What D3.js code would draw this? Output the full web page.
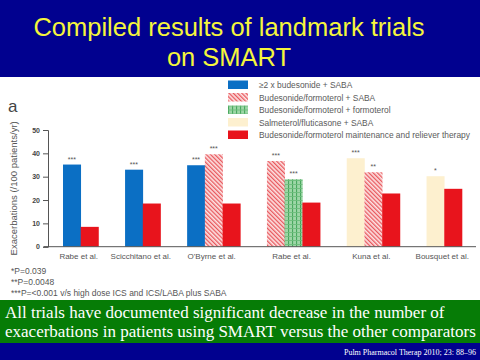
<!DOCTYPE html>
<html><head><meta charset="utf-8">
<script src="https://cdn.jsdelivr.net/npm/d3@7"></script>
<style>body{margin:0;background:#fff}svg{display:block}</style>
</head><body>
<script>
const titleLines = ["Compiled results of landmark trials", "on SMART"];
const trials = ["Rabe et al.", "Scicchitano et al.", "O'Byrne et al.", "Rabe et al.", "Kuna et al.", "Bousquet et al."];
const seriesNames = ["\u22652 x budesonide + SABA", "Budesonide/formoterol + SABA", "Budesonide/formoterol + formoterol", "Salmeterol/fluticasone + SABA", "Budesonide/formoterol maintenance and reliever therapy"];
// bars per trial: [series index, value, significance]
const trialBars = [
  [[0, 35.2, "***"], [4, 8.5, ""]],
  [[0, 33.0, "***"], [4, 18.5, ""]],
  [[0, 34.9, "***"], [1, 39.6, "***"], [4, 18.5, ""]],
  [[1, 36.7, "***"], [2, 28.9, "***"], [4, 18.9, ""]],
  [[3, 37.9, "***"], [1, 31.9, "**"], [4, 22.8, ""]],
  [[3, 30.2, "*"], [4, 24.8, ""]]
];
const yTicks = [0, 10, 20, 30, 40, 50];
const footnotes = ["*P=0.039", "**P=0.0048", "***P=<0.001 v/s high dose ICS and ICS/LABA plus SABA"];
const summaryLines = ["All trials have documented significant decrease in the number of", "exacerbations in patients using SMART versus the other comparators"];
const citation = "Pulm Pharmacol Therap 2010; 23: 88\u201396";

const W = 480, H = 360;
const svg = d3.select("body").append("svg").attr("width", W).attr("height", H);
const defs = svg.append("defs");

// patterns
const pHatch = defs.append("pattern").attr("id", "hatch").attr("patternUnits", "userSpaceOnUse")
  .attr("width", 3).attr("height", 3).attr("patternTransform", "rotate(-45)");
pHatch.append("rect").attr("width", 3).attr("height", 3).attr("fill", "#fde2e2");
pHatch.append("rect").attr("width", 1.3).attr("height", 3).attr("fill", "#e8585d");
const pPlaid = defs.append("pattern").attr("id", "plaid").attr("patternUnits", "userSpaceOnUse")
  .attr("width", 4).attr("height", 4);
pPlaid.append("rect").attr("width", 4).attr("height", 4).attr("fill", "#9dd6a6");
pPlaid.append("rect").attr("width", 1.1).attr("height", 4).attr("fill", "#4aa85f");
pPlaid.append("rect").attr("width", 4).attr("height", 0.9).attr("fill", "#6cbd7b");
const fills = ["#0b6fc4", "url(#hatch)", "url(#plaid)", "#fdf0cf", "#e8141c"];

// header band
svg.append("rect").attr("x", 0).attr("y", 0).attr("width", W).attr("height", 77).attr("fill", "#01018f");
svg.selectAll(".title").data(titleLines).join("text")
  .attr("x", 229).attr("y", (d, i) => 36 + i * 30)
  .attr("text-anchor", "middle").attr("fill", "#f5f53c")
  .style("font-family", "Liberation Sans, Arial, sans-serif").style("font-size", "25.5px")
  .text(d => d);

// panel label
svg.append("text").attr("x", 8).attr("y", 112).attr("fill", "#444")
  .style("font-family", "Liberation Sans, Arial, sans-serif").style("font-size", "17px").text("a");

// scales
const y = d3.scaleLinear().domain([0, 50]).range([246.7, 130]);
const gapSlots = 1.5;
let slot = 0;
const bars = [];
const groups = [];
trialBars.forEach((g, gi) => {
  const start = slot;
  g.forEach(b => { bars.push({series: b[0], value: b[1], sig: b[2], slot: slot}); slot += 1; });
  groups.push({name: trials[gi], center: (start + slot) / 2});
  slot += gapSlots;
});
const totalSlots = slot - gapSlots;
const x = d3.scaleLinear().domain([0, totalSlots]).range([63, 462]);
const bw = x(1) - x(0);

// bars
svg.append("g").selectAll("rect").data(bars).join("rect")
  .attr("x", d => x(d.slot)).attr("y", d => y(d.value))
  .attr("width", bw + 0.3).attr("height", d => y(0) - y(d.value))
  .attr("fill", d => fills[d.series]);
svg.append("g").selectAll("text").data(bars.filter(d => d.sig)).join("text")
  .attr("x", d => x(d.slot + 0.5)).attr("y", d => y(d.value) - 3)
  .attr("text-anchor", "middle").attr("fill", "#555")
  .style("font-family", "Liberation Sans, Arial, sans-serif").style("font-size", "7px")
  .text(d => d.sig);

// y axis
const yAxis = svg.append("g").attr("transform", "translate(48,0)")
  .call(d3.axisLeft(y).tickValues(yTicks).tickSize(5).tickPadding(3));
yAxis.select(".domain").attr("stroke", "#555");
yAxis.selectAll(".tick line").attr("stroke", "#555");
yAxis.selectAll("text").attr("fill", "#444").style("font-family", "Liberation Sans, Arial, sans-serif")
  .style("font-size", "7px").style("font-weight", "bold");
// baseline
svg.append("line").attr("x1", 44).attr("x2", 476).attr("y1", y(0)).attr("y2", y(0)).attr("stroke", "#555");

// axis label
svg.append("text").attr("transform", "translate(17," + (y(25)) + ") rotate(-90)")
  .attr("text-anchor", "middle").attr("fill", "#555")
  .style("font-family", "Liberation Sans, Arial, sans-serif").style("font-size", "9.5px")
  .text("Exacerbations (/100 patients/yr)");

// category labels
svg.append("g").selectAll("text").data(groups).join("text")
  .attr("x", d => x(d.center) - 2).attr("y", 259)
  .attr("text-anchor", "middle").attr("fill", "#555")
  .style("font-family", "Liberation Sans, Arial, sans-serif").style("font-size", "8px")
  .text(d => d.name);

// legend
const lg = svg.append("g").selectAll("g").data(seriesNames).join("g")
  .attr("transform", (d, i) => "translate(228," + (80.5 + i * 12.5) + ")");
lg.append("rect").attr("width", 20).attr("height", 8.5).attr("fill", (d, i) => fills[i]);
lg.append("text").attr("x", 31).attr("y", 7.5).attr("fill", "#5a5a5a")
  .style("font-family", "Liberation Sans, Arial, sans-serif").style("font-size", "8.4px").text(d => d);

// footnotes
svg.selectAll(".fn").data(footnotes).join("text")
  .attr("x", 11).attr("y", (d, i) => 273.5 + i * 11)
  .attr("fill", "#555").style("font-family", "Liberation Sans, Arial, sans-serif").style("font-size", "8.5px")
  .text(d => d);

// green summary band
svg.append("rect").attr("x", 0).attr("y", 300).attr("width", W).attr("height", 43).attr("fill", "#067c06");
svg.selectAll(".sum").data(summaryLines).join("text")
  .attr("x", 5).attr("y", (d, i) => 318 + i * 19)
  .attr("fill", "#fff").style("font-family", "Liberation Serif, Times New Roman, serif").style("font-size", "17px")
  .text(d => d);

// bottom band
svg.append("rect").attr("x", 0).attr("y", 343).attr("width", W).attr("height", 17).attr("fill", "#01018f");
svg.append("text").attr("x", 476).attr("y", 355).attr("text-anchor", "end").attr("fill", "#fff")
  .style("font-family", "Liberation Serif, Times New Roman, serif").style("font-size", "8px")
  .text(citation);
</script>
</body></html>
